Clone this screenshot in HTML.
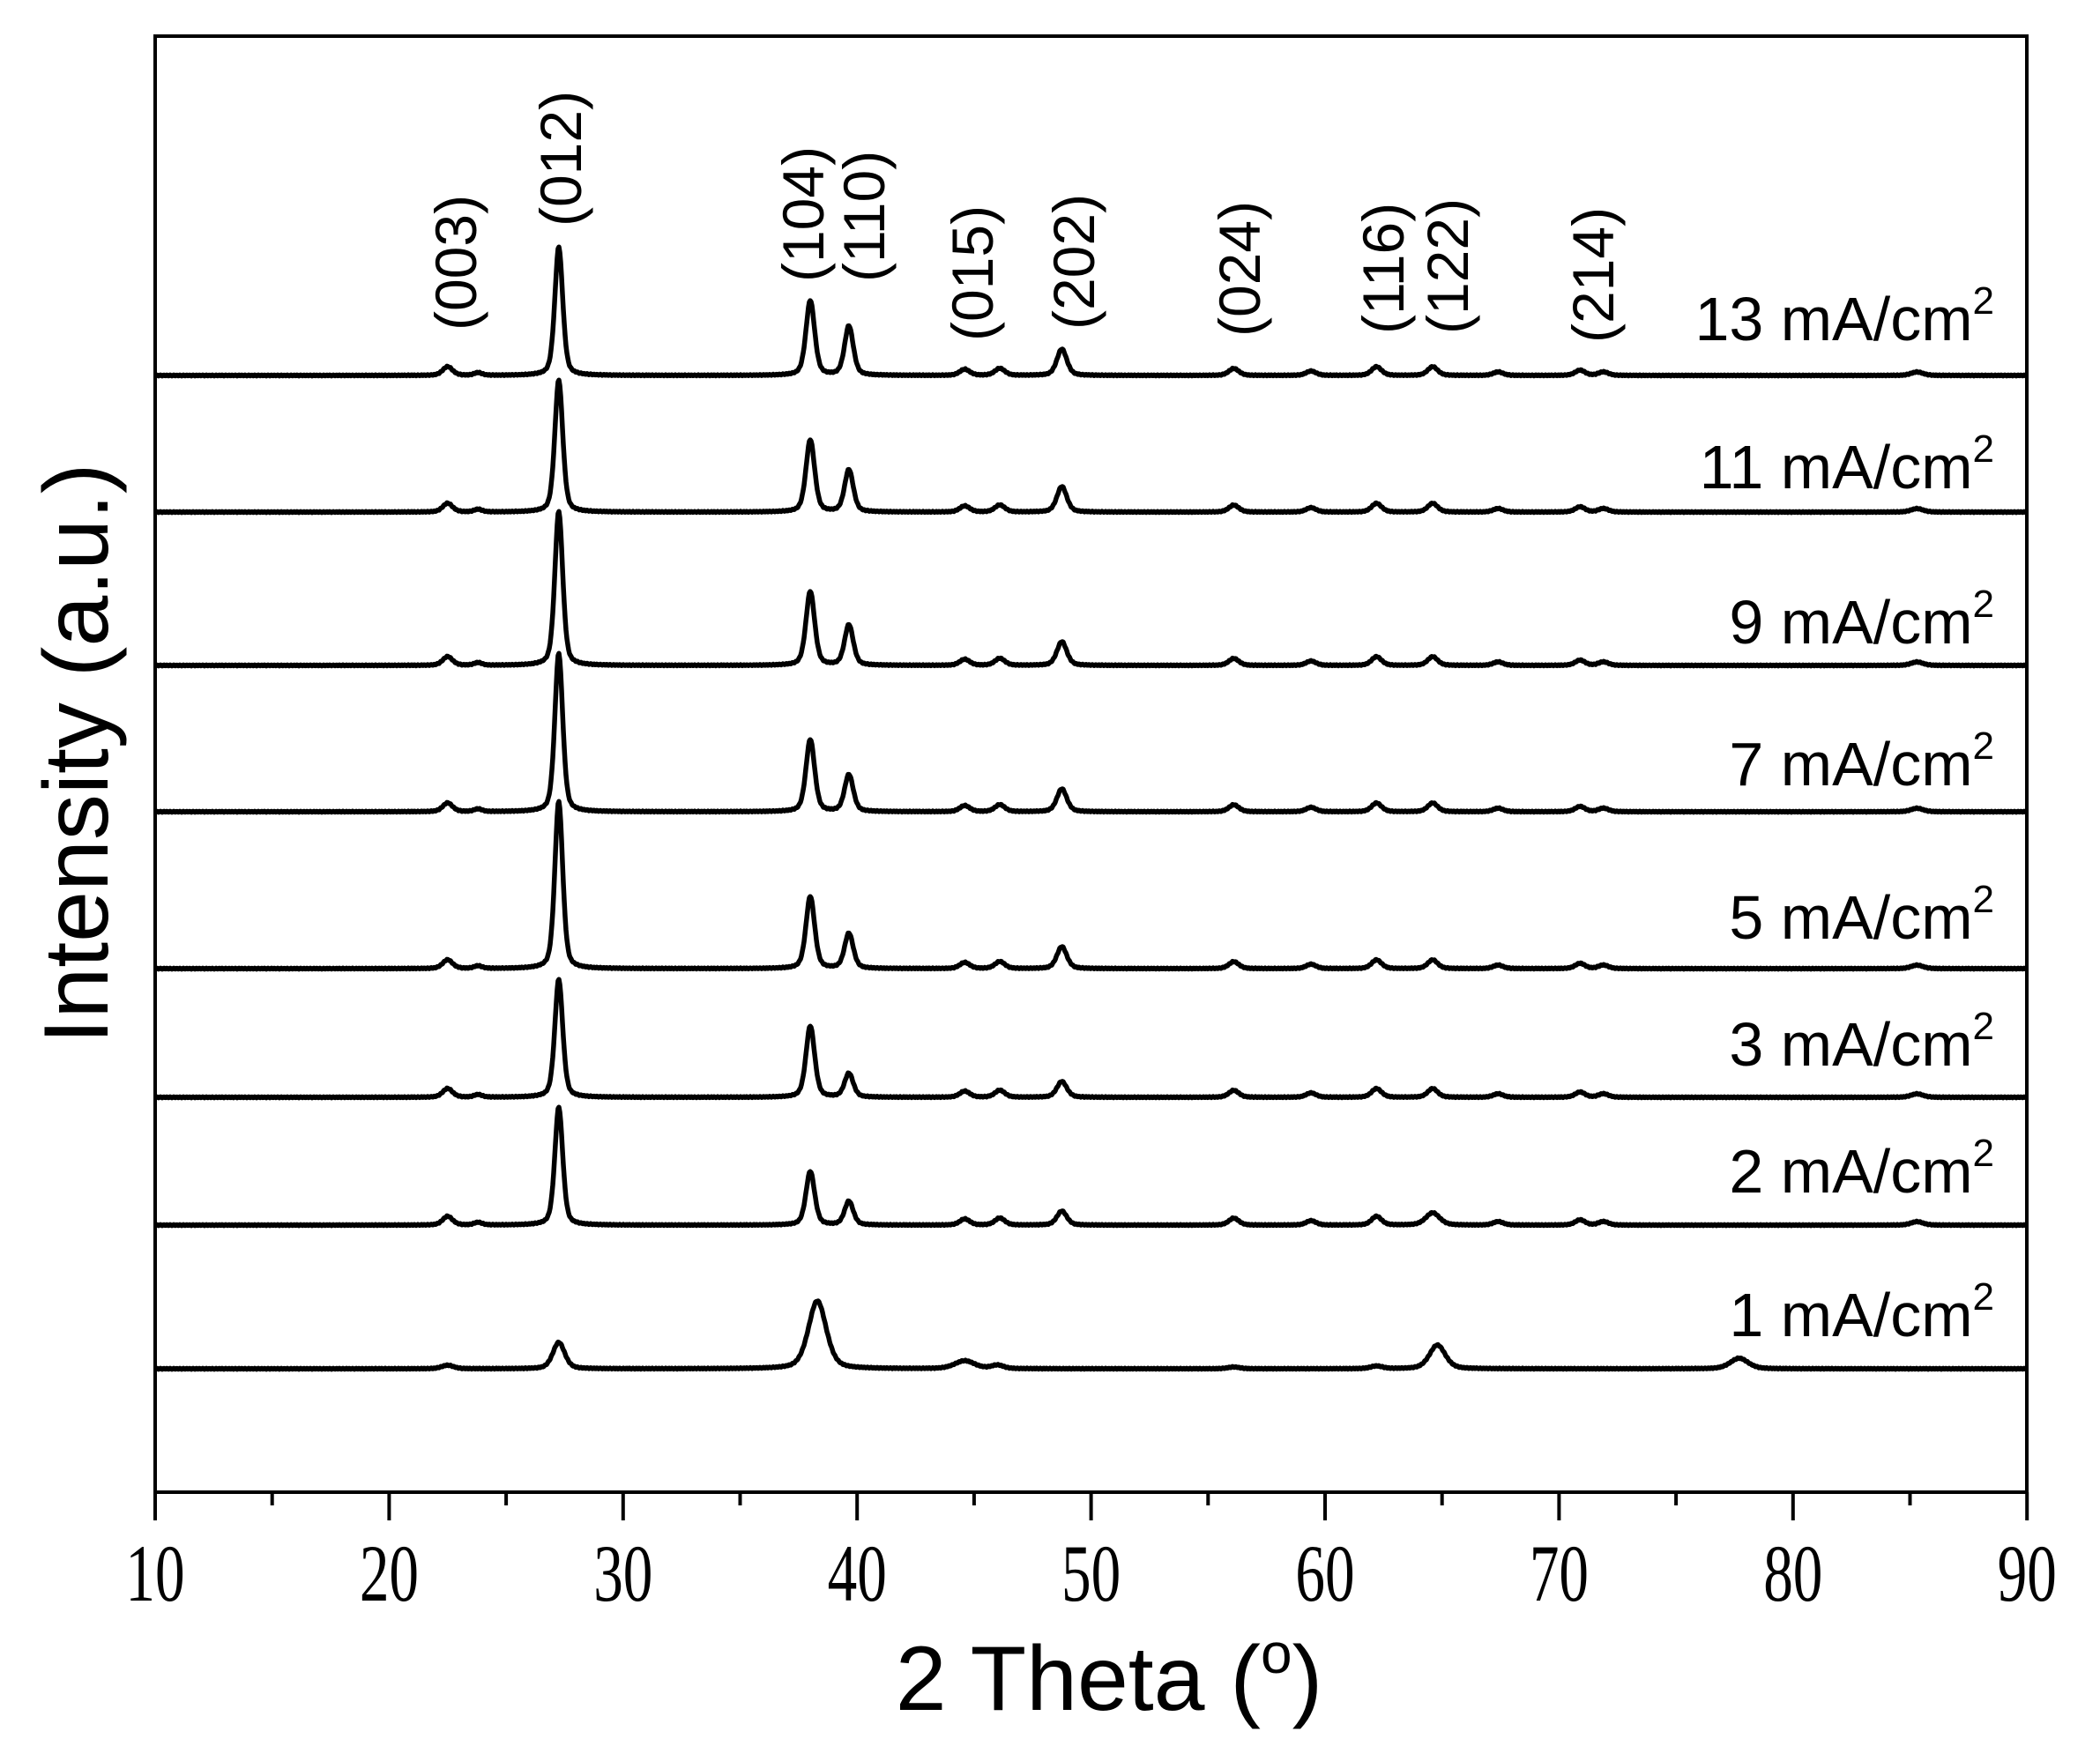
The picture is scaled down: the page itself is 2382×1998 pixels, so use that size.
<!DOCTYPE html>
<html><head><meta charset="utf-8"><style>
html,body{margin:0;padding:0;background:#fff}
svg{display:block}
</style></head><body>
<svg id="s" width="2382" height="1998" viewBox="0 0 2382 1998" xmlns="http://www.w3.org/2000/svg">
<rect x="0" y="0" width="2382" height="1998" fill="#fff"/>
<g id="traces" fill="none" stroke="#000" stroke-width="5.5" stroke-linejoin="round"></g>
<rect x="176" y="41" width="2123" height="1652" fill="none" stroke="#000" stroke-width="4"/>
<g id="ticks" stroke="#000" stroke-width="4"></g>
<g id="tl" font-family="Liberation Serif, serif" font-size="84" text-anchor="middle" fill="#000"></g>
<g font-family="Liberation Sans, sans-serif" fill="#000">
<text x="1258" y="1940" font-size="104" text-anchor="middle">2 Theta (<tspan font-size="64" dy="-42">o</tspan><tspan dy="42">)</tspan></text>
<text transform="translate(122,855) rotate(-90)" font-size="104" text-anchor="middle">Intensity (a.u.)</text>
</g>
<g font-family="Liberation Sans, sans-serif" font-size="70" text-anchor="end" fill="#000">
<text x="2262" y="386">13 mA/cm<tspan font-size="44" dy="-30">2</tspan></text>
<text x="2262" y="554">11 mA/cm<tspan font-size="44" dy="-30">2</tspan></text>
<text x="2262" y="730">9 mA/cm<tspan font-size="44" dy="-30">2</tspan></text>
<text x="2262" y="891">7 mA/cm<tspan font-size="44" dy="-30">2</tspan></text>
<text x="2262" y="1065">5 mA/cm<tspan font-size="44" dy="-30">2</tspan></text>
<text x="2262" y="1209">3 mA/cm<tspan font-size="44" dy="-30">2</tspan></text>
<text x="2262" y="1353">2 mA/cm<tspan font-size="44" dy="-30">2</tspan></text>
<text x="2262" y="1516">1 mA/cm<tspan font-size="44" dy="-30">2</tspan></text>
</g>
<g id="hkl" font-family="Liberation Sans, sans-serif" font-size="66" fill="#000"></g>
</svg>
<script>
(function(){
var NS="http://www.w3.org/2000/svg";
function X(t){return 176+(t-10)*26.54;}
var ticks=document.getElementById('ticks');
for(var t=10;t<=90;t+=5){
 var l=document.createElementNS(NS,'line');
 l.setAttribute('x1',X(t));l.setAttribute('x2',X(t));
 l.setAttribute('y1',1693);l.setAttribute('y2',t%10==0?1725:1708);
 ticks.appendChild(l);
}
var tl=document.getElementById('tl');
for(var t=10;t<=90;t+=10){
 var e=document.createElementNS(NS,'text');
 e.setAttribute('transform','translate('+X(t)+',1816) scale(0.8,1.1)');
 e.textContent=t;tl.appendChild(e);
}
var common=[[22.5,10,0.25],[23.8,3,0.2],[27.25,0,0.2],[38.0,0,0.22],[39.65,0,0.22],[44.6,7,0.25],[46.1,8,0.25],[48.75,0,0.25],[56.1,8,0.25],[59.4,5,0.25],[62.2,10,0.25],[64.6,10,0.25],[67.4,4,0.25],[70.9,6,0.25],[71.9,4,0.25],[85.3,4,0.3]];
var S=[[426,146,85,56,30],[581,150,82,48,29],[755,175,84,46,27],[921,180,82,42,26],[1099,190,82,40,25],[1245,134,81,27,18],[1390,134,61,27,16]];
var g=document.getElementById('traces');
function path(base,peaks){
 var d='';
 for(var x=176;x<=2299;x+=1){
  var t=10+(x-176)/26.54, y=0;
  for(var i=0;i<peaks.length;i++){var p=peaks[i];var u=(t-p[0])/p[2];y+=p[1]*(0.6*Math.exp(-u*u*0.693)+0.4/(1+u*u));}
  y+=Math.sin(x*1.7)*0.6;
  d+=(x==176?'M':'L')+x+' '+(base-y).toFixed(1);
 }
 var e=document.createElementNS(NS,'path');e.setAttribute('d',d);g.appendChild(e);
}
S.forEach(function(s){
 var pk=common.map(function(p){return p.slice();});
 pk[2][1]=s[1];pk[3][1]=s[2];pk[4][1]=s[3];pk[7][1]=s[4];
 if(s[0]==1390){pk[11][1]=14;pk[11][2]=0.35;}
 path(s[0],pk);
});
path(1553,[[22.5,4,0.3],[27.25,30,0.3],[38.3,77,0.45],[44.6,9,0.5],[46.0,4,0.3],[64.8,27,0.4],[77.7,12,0.45],[56.1,2,0.3],[62.2,3,0.3]]);
var H=[["(003)",516,375],["(012)",635,257],["(104)",910,320],["(110)",979,320],["(015)",1102,387],["(202)",1217,374],["(024)",1405,382],["(116)",1568,379],["(122)",1641,379],["(214)",1806,389]];
var hg=document.getElementById('hkl');
H.forEach(function(h){
 var tx=document.createElementNS(NS,'text');
 tx.setAttribute('transform','translate('+(h[1]+24)+','+h[2]+') rotate(-90)');
 tx.textContent=h[0];hg.appendChild(tx);
});
})();
</script>
</body></html>
